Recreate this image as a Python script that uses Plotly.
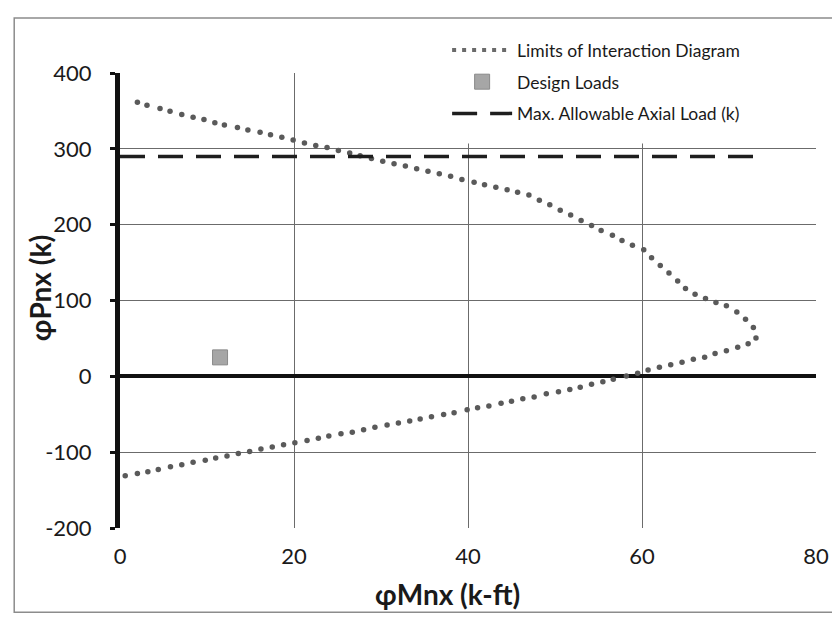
import plotly.graph_objects as go

# ---- data ----
moment_upper = [2.0, 3.1, 4.6, 5.75, 7.1, 8.4, 9.65, 10.9, 12.0, 13.5, 14.7, 16.1, 17.3, 18.6, 19.9,
                21.2, 22.5, 23.8, 25.1, 26.4, 27.6, 28.9, 30.2, 31.5, 32.8, 34.1, 35.4, 36.7, 38.0,
                39.3, 40.7, 41.9, 43.2, 44.5, 45.7, 47.0, 48.2, 49.4, 50.6, 51.8, 53.0, 54.2, 55.3,
                56.6, 57.7, 58.9, 60.2, 61.1, 62.1, 63.1, 64.1, 65.0, 66.1, 67.3, 68.5, 69.7, 70.9,
                71.9, 72.8, 73.1]
axial_upper = [361.3, 357.5, 353.3, 349.5, 345.4, 341.6, 338.8, 334.5, 331.3, 328.0, 325.0, 321.8,
               318.5, 315.2, 311.5, 307.8, 304.4, 301.6, 297.8, 294.5, 291.0, 287.4, 283.7, 280.4,
               277.5, 273.8, 270.5, 267.2, 263.9, 259.7, 256.0, 252.7, 249.4, 246.1, 242.7, 239.0,
               232.1, 226.2, 218.9, 212.6, 205.6, 198.9, 192.4, 186.1, 179.2, 172.9, 166.8, 156.5,
               146.1, 136.1, 125.7, 115.8, 108.1, 102.5, 97.5, 93.2, 84.7, 75.2, 64.4, 50.4]
moment_lower = [72.2, 71.0, 69.7, 68.4, 67.2, 65.9, 64.6, 63.3, 62.0, 60.7, 59.5, 58.2, 56.7, 55.5,
                54.2, 52.9, 51.7, 50.4, 49.0, 47.6, 46.3, 45.0, 43.8, 42.4, 41.1, 39.9, 38.4, 37.2,
                35.8, 34.5, 33.3, 32.0, 30.7, 29.3, 28.0, 26.7, 25.4, 24.0, 22.8, 21.5, 20.1, 18.8,
                17.5, 16.2, 14.9, 13.6, 12.3, 11.0, 9.8, 8.4, 7.1, 5.8, 4.4, 3.2, 2.0, 0.6]
axial_lower = [43.1, 38.5, 33.9, 30.2, 25.2, 22.4, 18.6, 15.4, 12.0, 8.3, 4.1, 0.4, -3.9, -7.3,
               -10.5, -14.5, -17.2, -20.3, -23.0, -27.3, -29.5, -32.7, -35.5, -39.1, -41.5, -44.2,
               -48.0, -50.2, -53.4, -56.2, -59.0, -61.7, -64.1, -67.3, -70.5, -73.7, -75.6, -78.8,
               -81.6, -84.7, -87.5, -90.3, -93.1, -95.8, -99.0, -101.8, -105.0, -107.8, -110.5,
               -113.3, -116.5, -119.3, -122.9, -125.7, -128.0, -131.2]

design_moment = [11.5]
design_axial = [25.0]

max_axial_moment = [0.0, 73.5]
max_axial_load = [290.0, 290.0]

x_ticks = [0, 20, 40, 60, 80]
x_tick_text = ["0", "20", "40", "60", "80"]
y_ticks = [-200, -100, 0, 100, 200, 300, 400]
y_tick_text = ["-200", "-100", "0", "100", "200", "300", "400"]

FONT = "Lato"

fig = go.Figure()

# legend-only sample for the dotted interaction curve
fig.add_trace(go.Scatter(
    x=[None], y=[None], mode="lines", name="Limits of Interaction Diagram",
    line=dict(color="#6a6a6a", width=4, dash="4px,6px"), legendgroup="a"))

fig.add_trace(go.Scatter(
    x=moment_upper + moment_lower, y=axial_upper + axial_lower, mode="markers",
    showlegend=False, legendgroup="a",
    marker=dict(size=5.5, color="#5a5a5a", symbol="circle")))

fig.add_trace(go.Scatter(
    x=design_moment, y=design_axial, mode="markers", name="Design Loads", legendgroup="b",
    marker=dict(size=15, color="#a6a6a6", symbol="square", line=dict(color="#8a8a8a", width=1))))

fig.add_trace(go.Scatter(
    x=max_axial_moment, y=max_axial_load, mode="lines", name="Max. Allowable Axial Load (k)",
    legendgroup="c", line=dict(color="#1e1e1e", width=3.5, dash="25px,13px")))

fig.update_layout(
    width=840, height=620,
    margin=dict(l=112, r=32, t=65, b=100),
    paper_bgcolor="white", plot_bgcolor="white",
    font=dict(family=FONT, color="#1a1a1a"),
    showlegend=True,
    legend=dict(x=0.47, y=1.09, xanchor="left", yanchor="top",
                bgcolor="rgba(0,0,0,0)", font=dict(size=17.5, family=FONT),
                itemwidth=60, tracegroupgap=6, traceorder="grouped"),
    xaxis=dict(range=[0, 80], tickvals=x_ticks, ticktext=x_tick_text,
               showgrid=True, gridcolor="#6b6b6b", gridwidth=1,
               zeroline=False, showline=False, ticks="", tickfont=dict(size=22, family=FONT),
               ticklabelstandoff=13),
    yaxis=dict(range=[-200, 400], tickvals=y_ticks, ticktext=y_tick_text,
               showgrid=True, gridcolor="#6b6b6b", gridwidth=1,
               zeroline=True, zerolinecolor="#111111", zerolinewidth=4,
               showline=True, linecolor="#111111", linewidth=5,
               ticks="outside", ticklen=5, tickwidth=3, tickcolor="#111111",
               tickfont=dict(size=22, family=FONT), ticklabelstandoff=14),
    shapes=[
        # white legend panel covering the top-right of the grid
        dict(type="rect", xref="paper", yref="paper", x0=0.335, x1=1.02, y0=0.845, y1=1.01,
             fillcolor="white", line=dict(width=0), layer="above"),
        # outer chart border
        dict(type="rect", xref="paper", yref="paper", x0=-0.152, x1=1.037, y0=-0.185, y1=1.121,
             line=dict(color="#8c8c8c", width=1.5), fillcolor="rgba(0,0,0,0)", layer="above"),
    ],
    annotations=[
        dict(text="<b>φPnx (k)</b>", xref="paper", yref="paper", x=-0.115, y=0.527,
             xanchor="center", yanchor="middle",
             textangle=-90, showarrow=False, font=dict(size=28, family=FONT)),
        dict(text="<b>φMnx (k-ft)</b>", xref="paper", yref="paper", x=0.471, y=-0.145,
             xanchor="center", yanchor="middle",
             showarrow=False, font=dict(size=28, family=FONT)),
    ],
)

fig.write_html("out.html")
